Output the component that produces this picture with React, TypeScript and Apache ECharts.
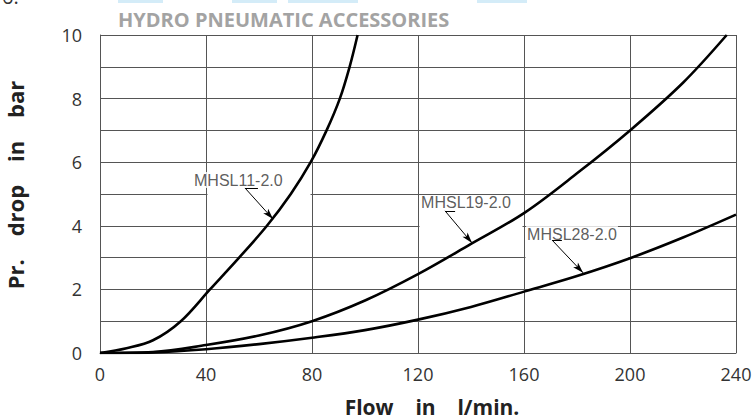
import React, { useEffect, useRef } from "react";
import * as echarts from "echarts";

// ---- data ----
const flowMHSL11 = [0, 10, 20, 30.5, 41.5, 52.5, 63, 72, 79.5, 85.5, 90.5, 94.2, 97.2];
const dropMHSL11 = [0, 0.15, 0.4, 1, 2, 3, 4, 5, 6, 7, 8, 9, 10];

const flowMHSL19 = [0, 20, 40, 60, 80, 100, 120, 140, 160, 180, 200, 220, 236.5];
const dropMHSL19 = [0, 0.03, 0.25, 0.55, 1.0, 1.65, 2.48, 3.43, 4.4, 5.65, 7.0, 8.5, 10];

const flowMHSL28 = [0, 20, 40, 60, 80, 100, 120, 140, 160, 180, 200, 220, 240];
const dropMHSL28 = [0, 0.02, 0.12, 0.28, 0.48, 0.72, 1.05, 1.45, 1.93, 2.42, 2.98, 3.63, 4.35];

const seriesNames = ["MHSL11-2.0", "MHSL19-2.0", "MHSL28-2.0"];
// label anchor (flow, bar) for each curve name
const labelFlow = [35.1, 120.8, 160.8];
const labelDrop = [5.44, 4.72, 3.74];
// leader arrows: start (flow, bar) -> tip (flow, bar)
const arrowStartFlow = [54.7, 130.2, 170.6];
const arrowStartDrop = [5.19, 4.47, 3.55];
const arrowTipFlow = [65.3, 140.4, 182.3];
const arrowTipDrop = [4.21, 3.46, 2.52];
const underlineEndFlow = [59.6, 134.0, 174.3];

// grid segments missing in the original
const gapFrom = [40, 120, 160];
const gapTo = [80, 160, 200];
const gapBar = [5, 4, 3];

const xTicks = [0, 40, 80, 120, 160, 200, 240];
const yTickLabels = [0, 2, 4, 6, 8, 10];

const pair = (xs: number[], ys: number[]) => xs.map((x, i) => [x, ys[i]]);

export default function App() {
  const ref = useRef<HTMLDivElement>(null);
  useEffect(() => {
    document.body.style.margin = "0";
    if (!ref.current) return;
    const chart = echarts.init(ref.current, undefined, { renderer: "svg" });
    const curveStyle = { color: "#000", width: 2.6 };
    const curve = (name: string, xs: number[], ys: number[]) => ({
      name,
      type: "line",
      data: pair(xs, ys),
      showSymbol: false,
      smooth: 0.35,
      lineStyle: curveStyle,
      z: 5,
      silent: true,
    });
    const arrows: any[] = [];
    for (let i = 0; i < 3; i++) {
      arrows.push([
        { coord: [arrowStartFlow[i], arrowStartDrop[i]], symbol: "none" },
        { coord: [arrowTipFlow[i], arrowTipDrop[i]], symbol: "arrow" },
      ]);
      arrows.push([
        { coord: [arrowStartFlow[i], arrowStartDrop[i]], symbol: "none" },
        { coord: [underlineEndFlow[i], arrowStartDrop[i]], symbol: "none" },
      ]);
    }
    const nameStyle = { color: "#222", fontWeight: "bold", fontFamily: "Open Sans" };
    const baseGraphic: any[] = [
      { type: "rect", left: 118, top: 0, shape: { width: 45, height: 3 }, style: { fill: "#d4ecf8" } },
      { type: "rect", left: 232, top: 0, shape: { width: 45, height: 3 }, style: { fill: "#d4ecf8" } },
      { type: "rect", left: 288, top: 0, shape: { width: 70, height: 3 }, style: { fill: "#d4ecf8" } },
      { type: "rect", left: 477, top: 0, shape: { width: 50, height: 3 }, style: { fill: "#d4ecf8" } },
      {
        type: "text",
        left: 2,
        top: -14,
        style: { text: "6.", fill: "#333", font: "20px 'Open Sans'" },
      },
      {
        type: "text",
        left: 118,
        top: 9,
        style: { text: "HYDRO PNEUMATIC ACCESSORIES", fill: "#a3a3a3", font: "bold 20px 'Open Sans'" },
      },
    ];
    chart.setOption({
      animation: false,
      grid: { left: 100, right: 20, top: 35, bottom: 66, outerBoundsMode: "none", containLabel: false },
      xAxis: {
        type: "value",
        min: xTicks[0],
        max: xTicks[xTicks.length - 1],
        interval: 40,
        axisLine: { show: true, lineStyle: { color: "#555" } },
        axisTick: { show: false },
        axisLabel: { color: "#333", fontSize: 18, fontFamily: "Open Sans", margin: 12 },
        splitLine: { show: true, lineStyle: { color: "#555", width: 1 } },
        name: "Flow    in    l/min.",
        nameLocation: "middle",
        nameGap: 43,
        nameTextStyle: { ...nameStyle, fontSize: 21, lineHeight: 21, padding: [0, 0, 0, 28] },
      },
      yAxis: {
        type: "value",
        min: 0,
        max: 10,
        interval: 1,
        axisLine: { show: true, lineStyle: { color: "#555" } },
        axisTick: { show: false },
        axisLabel: {
          color: "#333",
          fontSize: 18,
          fontFamily: "Open Sans",
          margin: 18,
          formatter: (v: number) => (yTickLabels.includes(v) ? String(v) : ""),
        },
        splitLine: { show: true, lineStyle: { color: "#555", width: 1 } },
        name: "Pr.    drop    in    bar",
        nameLocation: "middle",
        nameGap: 74,
        nameTextStyle: { ...nameStyle, fontSize: 22, lineHeight: 22, padding: [0, 0, 0, 18] },
      },
      graphic: baseGraphic,
      series: [
        curve(seriesNames[0], flowMHSL11, dropMHSL11),
        curve(seriesNames[1], flowMHSL19, dropMHSL19),
        curve(seriesNames[2], flowMHSL28, dropMHSL28),
        {
          name: "labels",
          type: "scatter",
          data: pair(labelFlow, labelDrop),
          symbolSize: 0,
          z: 3,
          silent: true,
          label: {
            show: true,
            position: "right",
            distance: 0,
            formatter: (p: any) => seriesNames[p.dataIndex],
            color: "#333",
            fontSize: 16,
            fontFamily: "Liberation Sans",
            backgroundColor: "#fff",
            padding: [0, 1],
          },
        },
        {
          name: "arrows",
          type: "line",
          data: [],
          z: 6,
          silent: true,
          markLine: {
            silent: true,
            symbolSize: [5, 11],
            lineStyle: { color: "#000", width: 1, type: "solid" },
            label: { show: false },
            data: arrows,
          },
        },
      ],
    });
    // white-out the grid segments that are missing in the original
    const gapRects = gapFrom.map((f, i) => {
      const p0 = chart.convertToPixel({ gridIndex: 0 }, [f, gapBar[i]]) as number[];
      const p1 = chart.convertToPixel({ gridIndex: 0 }, [gapTo[i], gapBar[i]]) as number[];
      return {
        type: "rect",
        z: 1,
        silent: true,
        shape: { x: p0[0] + 1.5, y: p0[1] - 2, width: p1[0] - p0[0] - 3, height: 4 },
        style: { fill: "#fff" },
      };
    });
    chart.setOption({ graphic: [...baseGraphic, ...gapRects] });
    return () => chart.dispose();
  }, []);
  return <div ref={ref} style={{ width: 756, height: 419 }} />;
}
